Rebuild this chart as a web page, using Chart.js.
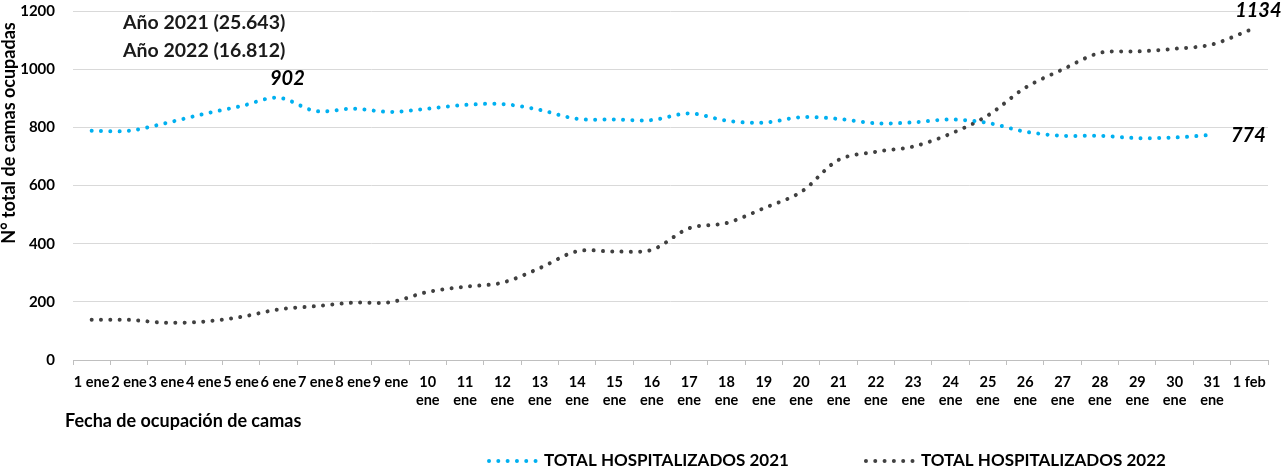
<!DOCTYPE html>
<html lang="es">
<head>
<meta charset="utf-8">
<script src="https://cdn.jsdelivr.net/npm/chart.js@4.4.1/dist/chart.umd.min.js"></script>
<style>
  html, body { margin: 0; padding: 0; background: #fff; }
  #wrap { width: 1281px; height: 476px; position: relative; }
</style>
</head>
<body>
<div id="wrap"><canvas id="camas"></canvas></div>
<script>
// fechas de ocupación (1 ene .. 1 feb)
const dias = ['1 ene', '2 ene', '3 ene', '4 ene', '5 ene', '6 ene', '7 ene', '8 ene', '9 ene',
  ['10', 'ene'], ['11', 'ene'], ['12', 'ene'], ['13', 'ene'], ['14', 'ene'], ['15', 'ene'],
  ['16', 'ene'], ['17', 'ene'], ['18', 'ene'], ['19', 'ene'], ['20', 'ene'], ['21', 'ene'],
  ['22', 'ene'], ['23', 'ene'], ['24', 'ene'], ['25', 'ene'], ['26', 'ene'], ['27', 'ene'],
  ['28', 'ene'], ['29', 'ene'], ['30', 'ene'], ['31', 'ene'], '1 feb'];

// camas ocupadas por día
const hosp2021 = [788, 788, 815, 846, 873, 902, 856, 864, 853, 864, 877, 880, 860, 829, 827, 825,
  848, 823, 816, 835, 829, 814, 817, 827, 815, 785, 771, 771, 763, 765, 774];
const hosp2022 = [138, 138, 128, 132, 148, 174, 185, 197, 199, 234, 252, 266, 316, 374, 373, 379,
  453, 471, 522, 578, 688, 716, 734, 778, 841, 936, 999, 1056, 1061, 1070, 1085, 1134];

const totalesAnio = ['Año 2021 (25.643)', 'Año 2022 (16.812)'];
const yTicks = [0, 200, 400, 600, 800, 1000, 1200];

const FUENTE = 'Lato, "Open Sans", sans-serif';
const AZUL = '#00B0F0';
const GRIS = '#404040';

const textosCamas = {
  id: 'textosCamas',
  afterDraw(chart) {
    const { ctx, scales: { x, y } } = chart;
    ctx.save();
    ctx.fillStyle = '#000';

    // título eje Y
    ctx.save();
    ctx.translate(9, 133);
    ctx.rotate(-Math.PI / 2);
    ctx.font = `bold 18px ${FUENTE}`;
    ctx.textAlign = 'center';
    ctx.textBaseline = 'middle';
    ctx.fillText('N° total de camas ocupadas', 0, 0);
    ctx.restore();

    // título eje X
    ctx.font = `bold 18px ${FUENTE}`;
    ctx.textAlign = 'left';
    ctx.textBaseline = 'middle';
    ctx.fillText('Fecha de ocupación de camas', 65, 421);

    // totales por año
    ctx.font = `bold 19.5px ${FUENTE}`;
    ctx.fillStyle = '#1a1a1a';
    ctx.fillText(totalesAnio[0], 123, 23);
    ctx.fillText(totalesAnio[1], 123, 51);

    // etiquetas de valores
    ctx.font = `italic bold 20px ${FUENTE}`;
    ctx.fillStyle = '#000';
    const iMax = hosp2021.indexOf(Math.max(...hosp2021));
    ctx.textAlign = 'center';
    ctx.fillText(String(hosp2021[iMax]), x.getPixelForValue(iMax) + 9, y.getPixelForValue(hosp2021[iMax]) - 19);
    const iFin22 = hosp2022.length - 1;
    ctx.fillText(String(hosp2022[iFin22]), x.getPixelForValue(iFin22) + 9, y.getPixelForValue(hosp2022[iFin22]) - 20);
    const iFin21 = hosp2021.length - 1;
    ctx.textAlign = 'left';
    ctx.fillText(String(hosp2021[iFin21]), x.getPixelForValue(iFin21) + 19, y.getPixelForValue(hosp2021[iFin21]) + 1);

    // leyenda
    ctx.font = `bold 17px ${FUENTE}`;
    ctx.textBaseline = 'middle';
    let lx = 487;
    const ly = 461;
    chart.data.datasets.forEach((ds) => {
      ctx.save();
      ctx.strokeStyle = ds.borderColor;
      ctx.lineWidth = ds.borderWidth;
      ctx.lineCap = 'round';
      ctx.setLineDash(ds.borderDash);
      ctx.beginPath();
      ctx.moveTo(lx + 2, ly);
      ctx.lineTo(lx + 52, ly);
      ctx.stroke();
      ctx.restore();
      ctx.fillStyle = '#000';
      ctx.textAlign = 'left';
      ctx.fillText(ds.label, lx + 57, ly);
      lx += 57 + ctx.measureText(ds.label).width + 75;
    });
    ctx.restore();
  }
};

new Chart(document.getElementById('camas'), {
  type: 'line',
  data: {
    labels: dias,
    datasets: [
      {
        label: 'TOTAL HOSPITALIZADOS 2021',
        data: hosp2021,
        borderColor: AZUL,
        borderWidth: 4,
        borderDash: [0.01, 9.3],
        borderCapStyle: 'round',
        tension: 0.33,
        pointRadius: 0,
        fill: false,
      },
      {
        label: 'TOTAL HOSPITALIZADOS 2022',
        data: hosp2022,
        borderColor: GRIS,
        borderWidth: 4,
        borderDash: [0.01, 9.3],
        borderCapStyle: 'round',
        tension: 0.33,
        pointRadius: 0,
        fill: false,
      },
    ],
  },
  options: {
    responsive: true,
    maintainAspectRatio: false,
    animation: false,
    layout: { padding: { top: 11, right: 13, left: 0, bottom: 0 } },
    plugins: {
      legend: { display: false },
      tooltip: { enabled: false },
    },
    scales: {
      x: {
        offset: true,
        grid: { offset: true, drawOnChartArea: false, drawTicks: true, tickLength: 5, color: '#bfbfbf' },
        border: { color: '#bfbfbf' },
        ticks: {
          autoSkip: false,
          maxRotation: 0,
          minRotation: 0,
          padding: 8,
          color: '#000',
          font: { family: FUENTE, weight: 'bold', size: 14.5, lineHeight: 1.25 },
        },
        afterFit: (s) => { s.height = 116; },
      },
      y: {
        min: 0,
        max: 1200,
        afterBuildTicks: (s) => { s.ticks = yTicks.map((v) => ({ value: v })); },
        // marcas de 18 px invisibles para separar las etiquetas del área
        grid: { color: '#d9d9d9', drawTicks: true, tickLength: 18, tickColor: 'rgba(0,0,0,0)' },
        border: { display: false },
        ticks: {
          padding: 0,
          color: '#000',
          font: { family: FUENTE, weight: 'bold', size: 15, lineHeight: 1 },
          callback: (v) => String(v),
        },
        afterFit: (s) => { s.width = 73; },
      },
    },
  },
  plugins: [textosCamas],
});
</script>
</body>
</html>
